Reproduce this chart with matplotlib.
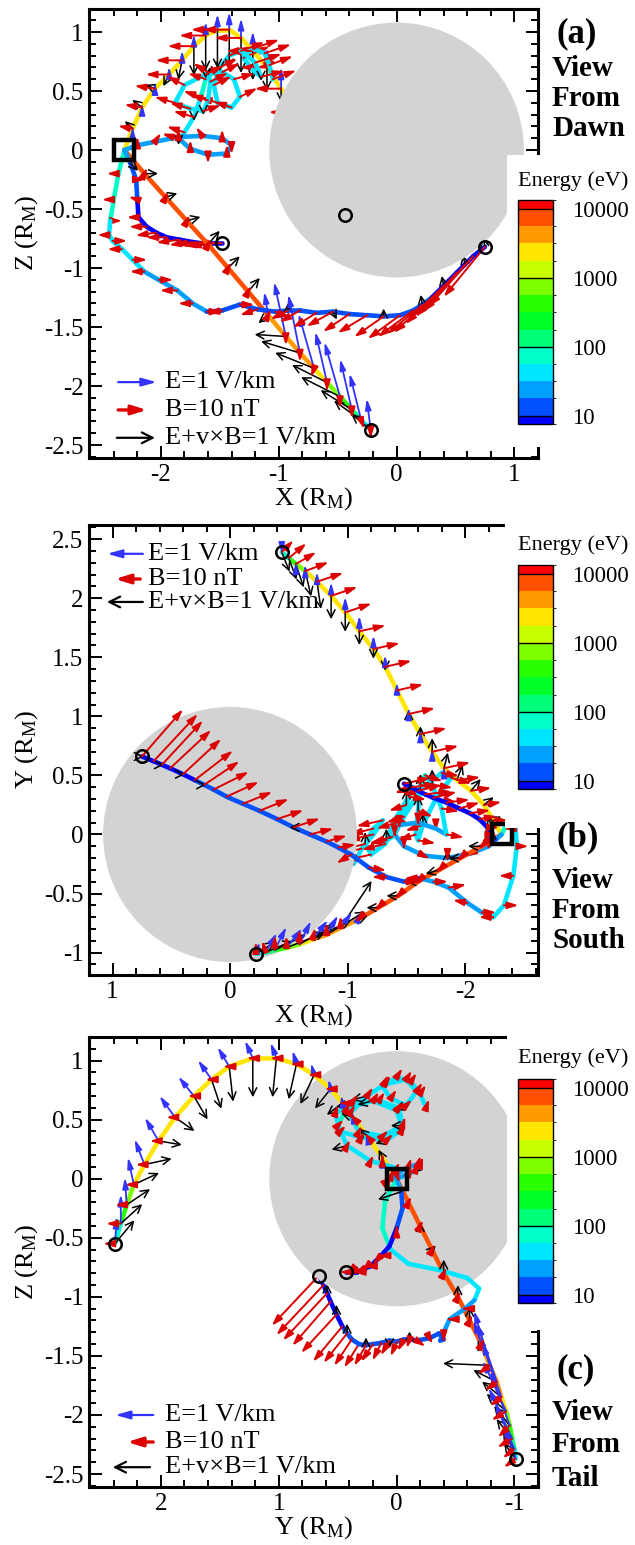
import numpy as np
import matplotlib
matplotlib.use("Agg")
import matplotlib.pyplot as plt
from matplotlib.colors import ListedColormap, BoundaryNorm
from matplotlib.collections import LineCollection
from matplotlib.patches import Circle, Rectangle, FancyArrowPatch
from matplotlib.cm import ScalarMappable
from matplotlib.ticker import MultipleLocator, FuncFormatter

plt.rcParams["font.family"] = ["Liberation Serif", "DejaVu Serif"]
plt.rcParams["mathtext.fontset"] = "custom"
plt.rcParams["mathtext.rm"] = "Liberation Serif"
plt.rcParams["mathtext.it"] = "Liberation Serif:italic"
plt.rcParams["mathtext.bf"] = "Liberation Serif:bold"
plt.rcParams["axes.unicode_minus"] = False

# ------------------------------------------------------------------ data
energy_bounds_log = [0.88, 1.0, 1.25, 1.5, 1.75, 2.0, 2.25, 2.5, 2.75,
                     3.0, 3.25, 3.5, 3.75, 4.0, 4.13]
band_colors = ["#0000ff", "#0050ff", "#00a0ff", "#00e6ff", "#00ffc8",
               "#00ff78", "#00ff28", "#28ff00", "#7dff00", "#c8ff00",
               "#ffe600", "#ff9a00", "#ff5000", "#ff0000"]
cbar_tick_values = [10, 100, 1000, 10000]
cbar_tick_labels = ["10", "100", "1000", "10000"]

planet_radius = 1.08

# trajectory S -> A (yellow)  (X, Y, Z) in R_M
path_A = [(-2.31, 0.00, 0.00), (-2.24, 0.12, 0.18), (-2.16, 0.25, 0.36), (-2.05, 0.37, 0.52),
          (-1.93, 0.46, 0.64), (-1.82, 0.56, 0.76), (-1.72, 0.70, 0.88), (-1.62, 0.85, 0.97),
          (-1.52, 1.02, 1.02), (-1.42, 1.22, 1.02), (-1.32, 1.42, 0.95), (-1.22, 1.57, 0.84),
          (-1.10, 1.72, 0.70), (-0.98, 1.88, 0.52), (-0.86, 2.02, 0.32), (-0.74, 2.14, 0.12),
          (-0.64, 2.23, -0.05), (-0.56, 2.29, -0.22), (-0.50, 2.34, -0.38), (-0.44, 2.39, -0.55)]
energy_A = [2500, 2500, 2500, 2500, 2500, 2500, 2500, 2500, 2500, 2500,
            2500, 2500, 2500, 2500, 2500, 2500, 1400, 700, 200, 40]
E_A = [(0, 0, 0), (0, 0, 0.05), (0, 0.02, 0.1), (0, 0.03, 0.15), (0, 0.03, 0.2),
       (0, 0.05, 0.25), (0, 0.08, 0.3), (0, 0.1, 0.35), (0, 0.15, 0.4), (0, 0.2, 0.45),
       (0, 0.3, 0.5), (0, 0.35, 0.5), (0, 0.4, 0.5), (0, 0.4, 0.55), (0, 0.35, 0.6),
       (0, 0.25, 0.65), (0, 0.15, 0.7), (0, 0.05, 0.7), (0, 0.0, 0.75), (0, -0.05, 0.7)]
B_A = [(0, 0, 0), (-5, 0, 1), (-6, 1, 1), (-7, 1, 1), (-8, 1, 0), (-9, 2, 0), (-9, 2, 0),
       (-9, 2, 0), (-9, 2, 0), (-9, 2, 0), (-9, 2, 0), (-9, 2, 0), (-9, 2, 0), (-9, 3, 0),
       (-9, 3, 0), (-9, 3, 0), (-8, 3, 0), (-7, 4, 0), (-6, 5, 0), (-4, 4, 0)]
EV_A = [(0, 0, 0), (-0.2, 0.1, 0.2), (-0.25, 0.2, 0.2), (-0.25, 0.3, 0.1), (-0.15, 0.4, -0.3),
        (-0.1, 0.4, -0.5), (0, 0.35, -0.75), (0, 0.2, -0.9), (0, 0.1, -1.0), (0, 0.0, -1.0),
        (0, -0.1, -0.9), (0, -0.25, -0.75), (0, -0.35, -0.6), (0, -0.5, -0.35), (0, -0.6, -0.1),
        (-0.1, -0.7, 0.15), (-0.15, -0.65, 0.3), (-0.2, -0.6, 0.4), (-0.2, -0.55, 0.5),
        (-0.2, -0.5, 0.6)]

# trajectory S -> D (orange)
path_D = [(-2.31, 0.00, 0.00), (-2.14, -0.10, -0.20), (-1.96, -0.20, -0.40), (-1.78, -0.30, -0.60),
          (-1.60, -0.40, -0.80), (-1.43, -0.52, -1.00), (-1.26, -0.62, -1.20), (-1.09, -0.72, -1.40),
          (-0.94, -0.79, -1.58), (-0.82, -0.85, -1.72), (-0.70, -0.89, -1.85), (-0.59, -0.93, -1.97),
          (-0.48, -0.96, -2.09), (-0.38, -0.98, -2.20), (-0.30, -1.00, -2.29), (-0.22, -1.01, -2.37)]
energy_D = [7000, 7000, 7000, 7000, 7000, 7000, 7000, 7000,
            4000, 4000, 2500, 1400, 700, 300, 60, 25]
E_D = [(0, 0, 0), (0, 0, 0), (0, 0, 0), (0, 0, 0), (0, 0, 0), (0, 0, 0), (0, 0, 0),
       (-0.1, 0.2, 0.6), (-0.3, 0.4, 1.4), (-0.3, 0.5, 1.5), (-0.4, 0.5, 1.4), (-0.3, 0.6, 1.3),
       (-0.4, 0.5, 1.4), (-0.3, 0.6, 1.3), (-0.3, 0.5, 1.2), (-0.1, 0.3, 0.8)]
B_D = [(0, 0, 0), (1, -1, 2), (1, -1, 2), (1, -1, 2), (1, -1, 2), (1, -1, 2), (1, -1, 2),
       (1, -1, 2), (0, 4, -3), (0, 4, -3), (-1, 4, -3), (0, 5, -3), (0, 4, -4), (0, 5, -3),
       (1, 4, -3), (0, 4, -3)]
EV_D = [(0, 0, 0), (0.35, 0, 0), (0.3, 0, 0.1), (0.35, -0.1, 0.1), (0.3, 0, 0.35),
        (0.3, 0, 0.3), (0.3, 0, 0.35), (-0.25, 0.1, -0.2), (-0.8, 1.2, 0.05), (-1.0, 0.6, 0.3),
        (-1.0, 0.5, 0.4), (-0.9, 0.5, 0.45), (-1.0, 0.4, 0.5), (-0.8, 0.4, 0.5),
        (-0.7, 0.3, 0.5), (-0.5, 0.3, 0.4)]

# trajectory S -> C (blue, low energy)
path_C = [(-2.31, 0.00, 0.00), (-2.36, 0.10, -0.20), (-2.40, 0.12, -0.42), (-2.43, 0.05, -0.60),
          (-2.44, -0.10, -0.72), (-2.41, -0.35, -0.77), (-2.33, -0.60, -0.84), (-2.24, -0.70, -0.93),
          (-2.14, -0.66, -1.03), (-2.02, -0.58, -1.10), (-1.86, -0.45, -1.19), (-1.73, -0.40, -1.30),
          (-1.61, -0.37, -1.37), (-1.48, -0.40, -1.36), (-1.33, -0.36, -1.31), (-1.18, -0.28, -1.35),
          (-1.03, -0.17, -1.37), (-0.92, -0.11, -1.36), (-0.82, -0.06, -1.36), (-0.68, 0.00, -1.38),
          (-0.54, 0.06, -1.37), (-0.40, 0.13, -1.39), (-0.25, 0.20, -1.40), (-0.11, 0.26, -1.41),
          (0.03, 0.32, -1.40), (0.14, 0.38, -1.36), (0.22, 0.42, -1.31), (0.30, 0.46, -1.25),
          (0.40, 0.51, -1.15), (0.51, 0.56, -1.04), (0.58, 0.59, -0.97), (0.65, 0.62, -0.90),
          (0.75, 0.66, -0.82)]
energy_C = [70, 70, 70, 70, 40, 40, 40, 40, 25, 25, 25, 25, 14, 14, 14, 14, 14,
            14, 14, 12, 12, 12, 12, 12, 12, 12, 12, 12, 8, 8, 12, 8, 8]
B_C = [(0, 0, 0), (-4, 0, 0), (-4, 0, 0), (4, 0, 0), (-4, 0, 0), (5, 0, 0), (-5, 0, 0),
       (5, 0, 0), (-5, 0, 0), (5, 1, 0), (-6, 1, 0), (-5, 0, 0), (5, 0, 0), (-5, 0, -1),
       (5, 0, 0), (-6, -1, -2), (5, -3, -2), (-6, 1, -3), (-7, 2, -4), (-8, 2, -5),
       (-9, 3, -5), (-9, 3, -6), (-10, 4, -6), (-10, 4, -7), (-11, 5, -8), (-12, 6, -9),
       (-12, 8, -10), (-13, 10, -12), (-13, 12, -13), (-14, 13, -15), (-14, 15, -16),
       (-15, 16, -17), (-14, 16, -17)]
EV_C = [(0, 0, 0), (0, 0, 0), (0, 0, 0), (0, 0, 0), (0, 0, 0), (0, 0, 0), (0, 0, 0),
        (0, 0, 0), (0, 0, 0), (0, 0, 0), (0, 0, 0), (0, 0, 0), (0, 0, 0), (0, 0, 0),
        (0, 0, 0), (0, 0, 0), (0, 0, 0), (0, 0, 0.2), (0, 0, 0), (0, 0, 0), (0.1, 0, -0.2),
        (0, 0, 0), (0, 0, 0), (0, 0, 0.2), (0, 0, 0), (0, 0, 0), (-0.05, 0, 0.25),
        (0, 0, 0), (-0.05, 0, 0.25), (0, 0, 0), (-0.05, 0, 0.25), (0, 0, 0), (-0.05, 0, 0.25)]

# trajectory S -> B (blue, low energy)
path_B = [(-2.31, 0.00, 0.00), (-2.26, -0.04, -0.11), (-2.21, -0.05, -0.25), (-2.20, 0.00, -0.42),
          (-2.19, 0.06, -0.57), (-2.12, 0.13, -0.65), (-2.04, 0.18, -0.70), (-1.95, 0.22, -0.74),
          (-1.84, 0.27, -0.76), (-1.73, 0.31, -0.78), (-1.66, 0.34, -0.79), (-1.60, 0.37, -0.79),
          (-1.54, 0.40, -0.79), (-1.48, 0.43, -0.79)]
energy_B = [25, 14, 12, 12, 8, 8, 8, 8, 8, 8, 12, 8, 8, 8]
B_B = [(0, 0, 0), (0, 0, 0), (3, 0, 0), (-3, 0, 1), (-4, 0, 0), (-6, 1, 0), (-7, 1, -1),
       (-7, 2, 0), (-8, 1, -1), (-8, 2, -1), (-9, 1, 0), (-8, 2, -1), (-9, 1, -1), (-9, 2, 0)]
EV_B = [(0, 0, 0), (0.2, 0.6, -0.2), (0, 0, 0), (0, 0, 0), (0, 0, 0), (0, 0, 0), (0, 0, 0),
        (0, 0, 0), (0, 0, 0), (0, 0, 0), (0, 0, 0), (0, 0, 0), (0, 0, 0), (0, 0, 0)]

# looping trajectory from S (cyan), no source marker
path_L = [(-2.31, 0.00, 0.00), (-2.20, -0.10, 0.04), (-2.05, -0.16, 0.07), (-1.85, -0.20, 0.11),
          (-1.65, -0.18, 0.12), (-1.48, -0.10, 0.10), (-1.40, 0.00, 0.04), (-1.44, 0.08, -0.03),
          (-1.60, 0.10, -0.04), (-1.75, 0.05, 0.01), (-1.84, 0.00, 0.09), (-1.80, 0.22, 0.15),
          (-1.72, 0.42, 0.28), (-1.66, 0.50, 0.45), (-1.62, 0.42, 0.60), (-1.60, 0.20, 0.66),
          (-1.58, 0.00, 0.58), (-1.60, -0.05, 0.42), (-1.64, 0.08, 0.33), (-1.75, 0.30, 0.35),
          (-1.88, 0.48, 0.40), (-1.80, 0.52, 0.55), (-1.62, 0.38, 0.64), (-1.48, 0.15, 0.66),
          (-1.38, -0.02, 0.60), (-1.33, -0.05, 0.45), (-1.40, 0.12, 0.36), (-1.52, 0.32, 0.40),
          (-1.55, 0.40, 0.55), (-1.50, 0.25, 0.70), (-1.42, 0.10, 0.80), (-1.32, -0.08, 0.84),
          (-1.20, -0.17, 0.74), (-1.15, -0.08, 0.62), (-1.22, 0.05, 0.68), (-1.30, 0.12, 0.78),
          (-1.22, 0.00, 0.86), (-1.12, -0.12, 0.82), (-1.08, -0.20, 0.72), (-1.05, -0.25, 0.60)]
energy_L = [25, 25, 25, 25, 25, 25, 25, 25, 25, 25, 25, 40, 40, 70, 70, 40, 40, 40, 40, 40,
            40, 70, 40, 40, 40, 40, 40, 40, 70, 40, 40, 40, 40, 40, 40, 40, 40, 40, 40, 40]
B_L = [(0, 0, 0), (0, -1, 3), (2, -1, 3), (0, -1, 3), (-2, -1, 3), (0, -1, 3), (0, -1, -3),
       (0, -1, 3), (0, -1, -3), (0, -1, 3), (-6, -1, 2), (-6, -1, 2), (-7, -1, 2), (-6, -2, 2),
       (-6, -1, 2), (-5, -2, 3), (6, -2, 3), (-6, -1, 2), (6, -2, 2), (-7, -1, 2), (-7, -2, 2),
       (-6, -1, 3), (6, -2, 3), (6, -2, 3), (7, -2, 2), (6, -1, 3), (-6, -2, 2), (-6, -1, 2),
       (6, -2, 3), (6, -2, 3), (7, -2, 3), (8, -2, 3), (9, -2, 3), (8, -2, 2), (8, -2, 3),
       (9, -2, 4), (9, -2, 3), (9, -2, 3), (8, -2, 3), (8, -1, 3)]
EV_L = [(0, 0, 0), (0, 0, 0), (0, 0, 0), (0, 0.2, -0.2), (0, 0, 0), (0, 0, 0), (0, 0, 0),
        (0, 0, 0), (0, 0, 0), (0, 0, 0), (0, 0, 0), (0, 0, 0), (0, 0.4, -0.1), (0, 0, 0),
        (0, 0, 0), (0, 0.4, -0.1), (0, 0, 0), (0, 0, 0), (0, 0.3, -0.1), (0, 0, 0),
        (0, 0, 0), (0, 0, 0), (0, 0.4, -0.1), (0, 0, 0), (0, 0, 0), (0, 0.3, 0), (0, 0, 0),
        (0, 0, 0), (0, 0, 0), (0, 0.4, -0.1), (0, 0, 0), (0, 0, 0), (0, 0, 0), (0, 0.3, -0.1),
        (0, 0, 0), (0, 0, 0), (0, 0, 0), (0, 0, 0), (0, 0, 0), (0, 0, 0)]

# arrow scales (R_M per unit)
E_scale = 0.33      # per V/km
EV_scale = 0.33     # per V/km
B_scale = 0.025     # per nT

legend_labels = ["E=1 V/km", "B=10 nT", "E+v\u00d7B=1 V/km"]
view_names = ["(a)", "(b)", "(c)"]
view_words = [["View", "From", "Dawn"], ["View", "From", "South"], ["View", "From", "Tail"]]
x_labels = ["X (R$_\\mathrm{M}$)", "X (R$_\\mathrm{M}$)", "Y (R$_\\mathrm{M}$)"]
y_labels = ["Z (R$_\\mathrm{M}$)", "Y (R$_\\mathrm{M}$)", "Z (R$_\\mathrm{M}$)"]

# ------------------------------------------------------------------ setup
W, H = 635, 1545
fig = plt.figure(figsize=(W / 100, H / 100), dpi=100)
cmap = ListedColormap(band_colors)
norm = BoundaryNorm(energy_bounds_log, cmap.N)

def fx(px):
    return px / W

def fy(py):
    return 1 - py / H

panels = [
    dict(h=0, v=2, d=1, xlim=(-2.61, 1.20), ylim=(-2.61, 1.195), top=9, bot=458,
         box=(507, 155, 447), cb_top=200, title_y=181, lab_y=[34, 69, 99, 129],
         leg=[(0.065, 0.151, 0.169), (0.065, 0.129, 0.107), (0.062, 0.147, 0.045)],
         leg_tx=0.169),
    dict(h=0, v=1, d=2, xlim=(1.20, -2.62), ylim=(-1.19, 2.62), top=525, bot=975,
         box=(505, 515, 828), cb_top=565, title_y=545, lab_y=[838, 880, 910, 940],
         leg=[(0.120, 0.040, 0.936), (0.114, 0.058, 0.880), (0.120, 0.040, 0.829)],
         leg_tx=0.131),
    dict(h=1, v=2, d=0, xlim=(2.61, -1.20), ylim=(-2.61, 1.20), top=1037, bot=1487,
         box=(507, 1027, 1330), cb_top=1079, title_y=1058, lab_y=[1370, 1412, 1445, 1478],
         leg=[(0.143, 0.058, 0.160), (0.143, 0.085, 0.100), (0.136, 0.053, 0.044)],
         leg_tx=0.169),
]

# (path, energy, E, B, E+vxB, has source marker)
trajectories = [
    (path_A, energy_A, E_A, B_A, EV_A, True),
    (path_D, energy_D, E_D, B_D, EV_D, True),
    (path_C, energy_C, None, B_C, EV_C, True),
    (path_B, energy_B, None, B_B, EV_B, True),
    (path_L, energy_L, None, B_L, EV_L, False),
]

red_style = "-|>,head_length=0.8,head_width=0.25"
blue_style = "-|>,head_length=0.8,head_width=0.22"
black_style = "->,head_length=0.7,head_width=0.35"


def draw_arrows(ax, pts, vecs, scale, color, style, p, zf, lw=1.1):
    if vecs is None:
        return
    for pt, vec in zip(pts, vecs):
        vec = np.asarray(vec, float) * scale
        x0, y0 = pt[p["h"]], pt[p["v"]]
        dx, dy = vec[p["h"]], vec[p["v"]]
        if np.hypot(dx, dy) < 0.015:
            continue
        z = 1.5 if pt[p["d"]] > 0 else zf
        ax.add_patch(FancyArrowPatch((x0, y0), (x0 + dx, y0 + dy), arrowstyle=style,
                                     mutation_scale=8, lw=lw, color=color, zorder=z,
                                     shrinkA=0, shrinkB=0))


def fmt(v, pos):
    return "%g" % round(v, 2)


for k, p in enumerate(panels):
    ax = fig.add_axes([fx(89), fy(p["bot"]), fx(449), (p["bot"] - p["top"]) / H])
    ax.set_xlim(*p["xlim"])
    ax.set_ylim(*p["ylim"])
    ax.add_patch(Circle((0, 0), planet_radius, fc="#d3d3d3", ec="none", zorder=2))

    for pts, en, Ev, Bv, EVv, has_src in trajectories:
        P = np.asarray(pts, float)
        h, v, d = P[:, p["h"]], P[:, p["v"]], P[:, p["d"]]
        segs = np.stack([np.column_stack([h[:-1], v[:-1]]),
                         np.column_stack([h[1:], v[1:]])], axis=1)
        le = np.log10(np.asarray(en, float))
        c = 0.5 * (le[:-1] + le[1:])
        behind = 0.5 * (d[:-1] + d[1:]) > 0
        for mask, z in ((behind, 1.0), (~behind, 3.0)):
            if mask.any():
                lc = LineCollection(segs[mask], cmap=cmap, norm=norm, linewidths=3.3,
                                    capstyle="round", joinstyle="round", zorder=z)
                lc.set_array(c[mask])
                ax.add_collection(lc)
        draw_arrows(ax, pts, EVv, EV_scale, "black", black_style, p, 4.0, lw=1.1)
        draw_arrows(ax, pts, Ev, E_scale, "#3333ff", blue_style, p, 4.2, lw=1.3)
        draw_arrows(ax, pts, Bv, B_scale, "#dd0000", red_style, p, 4.4, lw=1.4)
        if has_src:
            ax.plot(P[-1, p["h"]], P[-1, p["v"]], "o", mfc="none", mec="black", ms=9,
                    mew=1.8, zorder=7)
    # observation point
    S = path_A[0]
    ax.plot(S[p["h"]], S[p["v"]], "s", mfc="none", mec="black", ms=15, mew=3.2, zorder=7)

    # ticks
    ax.xaxis.set_major_locator(MultipleLocator(1))
    ax.xaxis.set_minor_locator(MultipleLocator(0.2))
    ax.yaxis.set_major_locator(MultipleLocator(0.5))
    ax.yaxis.set_minor_locator(MultipleLocator(0.1))
    ax.xaxis.set_major_formatter(FuncFormatter(fmt))
    ax.yaxis.set_major_formatter(FuncFormatter(fmt))
    ax.tick_params(which="both", direction="in", top=True, right=True, width=1.4,
                   labelsize=18, pad=4)
    ax.tick_params(which="major", length=9)
    ax.tick_params(which="minor", length=5)
    for s in ax.spines.values():
        s.set_linewidth(2.2)
    ax.set_xlabel(x_labels[k], fontsize=19, labelpad=0)
    ax.set_ylabel(y_labels[k], fontsize=19, labelpad=3)

    # legend arrows
    cols = ["#3333ff", "#dd0000", "black"]
    styles = [blue_style, red_style, black_style]
    lws = [1.6, 2.4, 1.6]
    for (x0, x1, yy), col, st, lw_, lab in zip(p["leg"], cols, styles, lws, legend_labels):
        ax.add_patch(FancyArrowPatch((x0, yy), (x1, yy), transform=ax.transAxes,
                                     arrowstyle=st, mutation_scale=11, lw=lw_, color=col,
                                     shrinkA=0, shrinkB=0, zorder=8))
        ax.text(p["leg_tx"], yy, lab, transform=ax.transAxes, fontsize=19,
                va="center", ha="left", zorder=8)

    # white box behind the colour bar
    bx, by0, by1 = p["box"]
    fig.add_artist(Rectangle((fx(bx), fy(by1)), 1 - fx(bx), (by1 - by0) / H,
                             transform=fig.transFigure, fc="white", ec="none", zorder=1))
    # colour bar
    cax = fig.add_axes([fx(518), fy(p["cb_top"] + 224), fx(35), 224 / H], zorder=2)
    sm = ScalarMappable(norm=norm, cmap=cmap)
    cb = fig.colorbar(sm, cax=cax, spacing="proportional",
                      ticks=np.log10(cbar_tick_values))
    cb.ax.set_yticklabels(cbar_tick_labels)
    cb.ax.tick_params(length=0, labelsize=16.5, pad=14)
    cb.outline.set_linewidth(1.0)
    for t in np.log10(cbar_tick_values):
        cax.axhline(t, color="black", lw=1.0)
    fig.text(fx(518), fy(p["title_y"]), "Energy (eV)", fontsize=16, va="center",
             ha="left", zorder=3)

    # panel labels
    fig.text(fx(556), fy(p["lab_y"][0]), view_names[k], fontsize=25, fontweight="bold",
             va="center", ha="left", zorder=3)
    for j, w in enumerate(view_words[k]):
        fig.text(fx(552), fy(p["lab_y"][j + 1]), w, fontsize=21, fontweight="bold",
                 va="center", ha="left", zorder=3)

fig.savefig("out.png", dpi=100)
